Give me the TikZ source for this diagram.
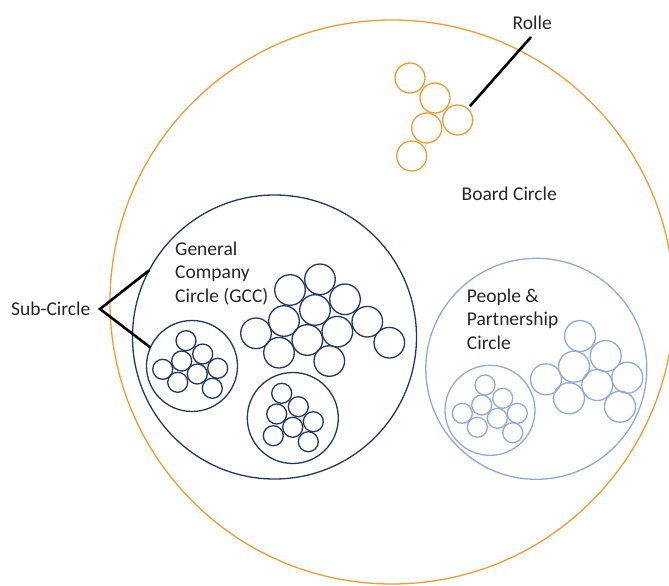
\documentclass[tikz,border=0pt]{standalone}
\usepackage{fontspec}
\setmainfont{Carlito}
\definecolor{board}{HTML}{F29B30}
\definecolor{gcc}{HTML}{1F3864}
\definecolor{pp}{HTML}{8EAADB}
\definecolor{ink}{HTML}{262626}
\begin{document}
\begin{tikzpicture}[x=1pt,y=-1pt,
  ring/.style={circle,draw,inner sep=0pt,outer sep=0pt,line width=1.3pt,minimum size=#1},
  role/.style={ring=30pt,draw=board},
  gccbig/.style={ring=30.6pt,draw=gcc},
  gccsmall/.style={ring=20pt,draw=gcc},
  gccsub/.style={ring=91pt,draw=gcc},
  ppbig/.style={ring=31pt,draw=pp},
  ppsmall/.style={ring=20pt,draw=pp},
  label/.style={font=\fontsize{19.5}{23.6}\selectfont,text=ink,inner sep=0pt,align=left,anchor=base west},
  link/.style={line width=2.6pt,black}]
\useasboundingbox (0,0) rectangle (669,586);

% Board circle
\node[ring=564pt,draw=board] (board) at (392,302) {};
\node[label] (boardlabel) at (461.5,200.5) {Board Circle};

% roles of the board circle
\node[role] (role1) at (410,78) {};
\node[role] (role2) at (435,98) {};
\node[role] (role3) at (457.7,120) {};
\node[role] (role4) at (426.7,128) {};
\node[role] (role5) at (411.7,156) {};
\node[label] (rolle) at (512.5,29.3) {Rolle};
\coordinate (rolletip) at (531,37);
\draw[link,shorten <=3.5pt] (role3) -- (rolletip);

% General Company Circle (base anchor sits on the last line)
\node[ring=284pt,draw=gcc] (gcc) at (274.5,337) {};
\node[label] (gcclabel) at (175,302.5) {General\\Company\\Circle (GCC)};

\node[gccbig] (g1) at (290,290) {};
\node[gccbig] (g2) at (320,279.3) {};
\node[gccbig] (g3) at (345,299.3) {};
\node[gccbig] (g4) at (315,310) {};
\node[gccbig] (g5) at (284,321) {};
\node[gccbig] (g6) at (256,333.3) {};
\node[gccbig] (g7) at (367.3,321.7) {};
\node[gccbig] (g8) at (337.3,331.7) {};
\node[gccbig] (g9) at (307.3,340) {};
\node[gccbig] (g10) at (279,352.7) {};
\node[gccbig] (g11) at (389.3,342.7) {};
\node[gccbig] (g12) at (329.3,361) {};

% sub-circles of the GCC
\node[gccsub] (sub1) at (192,366) {};
\node[gccsmall] (s1a) at (186,340.7) {};
\node[gccsmall] (s1b) at (202.7,354) {};
\node[gccsmall] (s1c) at (181.7,361) {};
\node[gccsmall] (s1d) at (162.7,369.3) {};
\node[gccsmall] (s1e) at (217.7,368.3) {};
\node[gccsmall] (s1f) at (197.3,374) {};
\node[gccsmall] (s1g) at (177.7,382.3) {};
\node[gccsmall] (s1h) at (212.3,388.3) {};

\node[gccsub] (sub2) at (292.8,418) {};
\node[gccsmall] (s2a) at (281.7,393.3) {};
\node[gccsmall] (s2b) at (298.3,406.7) {};
\node[gccsmall] (s2c) at (276.7,414) {};
\node[gccsmall] (s2d) at (313.3,421.7) {};
\node[gccsmall] (s2e) at (292.7,427.3) {};
\node[gccsmall] (s2f) at (273.3,435.7) {};
\node[gccsmall] (s2g) at (308.3,441.7) {};

\node[label] (sublabel) at (11,315.7) {Sub-Circle};
\coordinate (subapex) at (100,309);
\draw[link,line join=miter] (gcc.152.8) -- (subapex) -- (sub1.156);

% People & Partnership Circle
\node[ring=221pt,draw=pp] (pp) at (536.3,368.8) {};
\node[label] (pplabel) at (466.7,349.3) {People \&\\Partnership\\Circle};

\node[ppbig] (p1) at (580,336) {};
\node[ppbig] (p2) at (605.7,356) {};
\node[ppbig] (p3) at (574,366.7) {};
\node[ppbig] (p4) at (546,379.3) {};
\node[ppbig] (p5) at (627.3,377.7) {};
\node[ppbig] (p6) at (597.3,385) {};
\node[ppbig] (p7) at (569,398.3) {};
\node[ppbig] (p8) at (620,406.7) {};

\node[ring=90pt,draw=pp] (ppsub) at (490,410.3) {};
\node[ppsmall] (q1) at (485,385) {};
\node[ppsmall] (q2) at (502.7,398.3) {};
\node[ppsmall] (q3) at (481.7,405) {};
\node[ppsmall] (q4) at (462.3,413.3) {};
\node[ppsmall] (q5) at (517.3,413.3) {};
\node[ppsmall] (q6) at (497.3,418.3) {};
\node[ppsmall] (q7) at (477.3,427.3) {};
\node[ppsmall] (q8) at (512.7,432.7) {};
\end{tikzpicture}
\end{document}
